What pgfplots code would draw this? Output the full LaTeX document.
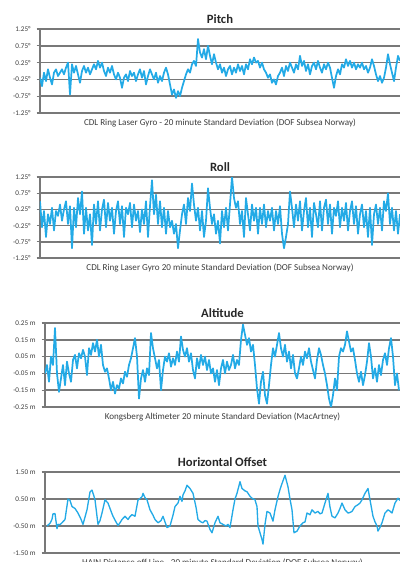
\documentclass[border=0pt]{standalone}
\usepackage{pgfplots}
\pgfplotsset{compat=1.18}
\usepackage{fontspec}
\setmainfont{Carlito}
\definecolor{linec}{RGB}{35,170,230}
\definecolor{gridc}{RGB}{120,120,120}
\definecolor{labc}{RGB}{60,60,60}
\definecolor{titc}{RGB}{40,40,40}
\pgfplotsset{
  panel/.style={
    scale only axis,
    axis x line*=bottom, axis y line*=left,
    x axis line style={draw=none},
    y axis line style={draw=gridc, line width=1.1pt},
    xtick=\empty,
    ymajorgrids, grid style={draw=gridc, line width=1.1pt},
    tick align=outside, major tick length=2.5pt,
    ytick style={draw=gridc, line width=0.8pt},
    yticklabel style={font=\fontsize{5.4}{6}\selectfont, text=labc, xshift=-1pt},
    title style={font=\bfseries\fontsize{9.5}{11}\selectfont, text=titc, at={(axis description cs:0.5,1)}, anchor=south, yshift=-5.5pt},
    xlabel style={font=\fontsize{6.8}{7}\selectfont, text=labc, at={(axis description cs:0.5,0)}, anchor=north, yshift=-0.5pt},
  },
  sig/.style={color=linec, line width=1.3pt, line join=round, mark=none},
}
\begin{document}
\begin{tikzpicture}
\useasboundingbox (0pt,0pt) rectangle (300pt,421.5pt);
% ---------- Pitch ----------
\begin{axis}[panel, at={(30pt,336.75pt)}, anchor=south west, width=270pt, height=63pt,
  xmin=0, xmax=360, ymin=-1.25, ymax=1.25,
  ytick={-1.25,-0.75,-0.25,0.25,0.75,1.25},
  yticklabels={-1.25°,-0.75°,-0.25°,0.25°,0.75°,1.25°},
  title={Pitch},
  xlabel={CDL Ring Laser Gyro - 20 minute Standard Deviation (DOF Subsea Norway)}]
\addplot[sig] coordinates {(0,-0.20)(2,-0.45)(4,-0.05)(6,-0.30)(8,0.05)(10,-0.20)(12,-0.40)(14,-0.05)(16,0.05)(18,-0.15)(20,-0.05)(22,0.05)(24,-0.10)(26,0.10)(28,0.25)(30,-0.70)(32,0.20)(34,-0.05)(36,0.15)(38,-0.10)(40,-0.35)(42,0.00)(44,0.15)(46,-0.05)(48,0.10)(50,-0.10)(52,0.05)(54,0.20)(56,0.05)(58,0.30)(60,0.10)(62,0.25)(64,0.00)(66,-0.15)(68,0.10)(70,-0.05)(72,0.15)(74,-0.10)(76,-0.25)(78,-0.05)(80,-0.20)(82,-0.50)(84,-0.20)(86,-0.10)(88,-0.30)(90,0.00)(92,-0.15)(94,-0.05)(96,-0.30)(98,-0.10)(100,0.05)(102,-0.20)(104,0.00)(106,-0.40)(108,-0.15)(110,0.05)(112,-0.10)(114,-0.25)(116,-0.05)(118,-0.35)
(120,-0.15)(122,-0.30)(124,-0.05)(126,0.10)(128,-0.10)(130,-0.40)(132,-0.70)(134,-0.55)(136,-0.80)(138,-0.60)(140,-0.75)(142,-0.50)(144,-0.30)(146,-0.10)(148,0.05)(150,-0.05)(152,0.20)(154,0.30)(156,0.15)(158,0.95)(160,0.55)(162,0.40)(164,0.65)(166,0.35)(168,0.75)(170,0.45)(172,0.20)(174,0.50)(176,0.25)(178,0.05)(180,0.20)(182,-0.05)(184,0.10)(186,-0.15)(188,0.05)(190,0.15)(192,-0.10)(194,0.10)(196,-0.05)(198,0.20)
(200,0.00)(202,0.15)(204,-0.10)(206,0.20)(208,0.05)(210,0.35)(212,0.20)(214,0.40)(216,0.25)(218,0.30)(220,0.10)(222,0.25)(224,0.05)(226,-0.05)(228,-0.20)(230,-0.10)(232,-0.35)(234,-0.25)(236,-0.40)(238,-0.15)(240,-0.05)(242,0.10)(244,-0.15)(246,0.15)(248,0.00)(250,0.25)(252,0.10)(254,-0.05)(256,0.20)(258,0.05)(260,0.45)(262,0.15)(264,0.30)(266,0.00)(268,0.20)(270,-0.10)(272,0.15)(274,0.25)(276,0.05)(278,0.30)(280,0.10)(282,-0.05)(284,0.20)(286,0.05)(288,0.25)(290,0.10)(292,-0.20)(294,-0.50)(296,-0.15)(298,0.05)(300,-0.10)(302,0.20)(304,0.10)(306,0.35)(308,0.15)(310,0.30)(312,0.10)(314,0.25)(316,0.05)(318,0.20)(320,0.10)(322,0.25)(324,0.05)(326,0.15)(328,-0.05)(330,0.10)(332,0.35)(334,0.15)(336,-0.10)(338,-0.30)(340,-0.15)(342,-0.35)(344,-0.20)(346,0.10)(348,0.50)(350,0.20)(352,-0.05)(354,-0.30)(356,0.10)(358,0.45)(360,0.30)};
\end{axis}
% ---------- Roll ----------
\begin{axis}[panel, at={(30pt,228pt)}, anchor=south west, width=270pt, height=60.75pt,
  xmin=0, xmax=360, ymin=-1.25, ymax=1.25,
  ytick={-1.25,-0.75,-0.25,0.25,0.75,1.25},
  yticklabels={-1.25°,-0.75°,-0.25°,0.25°,0.75°,1.25°},
  title={Roll},
  xlabel={CDL Ring Laser Gyro 20 minute Standard Deviation (DOF Subsea Norway)}]
\addplot[sig] coordinates {(0,0.50)(2,-0.30)(4,0.20)(6,-0.60)(8,0.10)(10,-0.20)(12,0.30)(14,-0.40)(16,0.20)(18,0.05)(20,0.40)(22,-0.10)(24,0.25)(26,0.50)(28,-0.20)(30,0.35)(32,-0.95)(34,0.30)(36,-0.30)(38,0.60)(40,0.10)(42,0.80)(44,-0.50)(46,0.30)(48,-0.40)(50,0.10)(52,-0.85)(54,0.40)(56,-0.20)(58,0.50)(60,-0.40)(62,0.25)(64,0.55)(66,-0.30)(68,0.45)(70,-0.10)(72,0.30)(74,-0.50)(76,0.20)(78,0.50)(80,-0.20)(82,0.35)(84,-0.60)(86,0.30)(88,0.10)(90,0.45)(92,-0.30)(94,0.40)(96,-0.10)(98,0.20)(100,-0.45)(102,0.25)(104,-0.20)(106,0.50)(108,-0.60)(110,0.35)(112,1.15)(114,0.10)(116,0.70)(118,-0.20)(120,0.50)(122,-0.30)(124,0.30)(126,-0.50)(128,0.20)(130,-0.30)(132,-0.10)(134,-0.50)(136,-0.20)(138,-0.95)(140,-0.40)(142,0.10)(144,0.40)(146,-0.20)(148,0.60)(150,0.20)(152,1.05)(154,0.40)(156,-0.10)(158,0.30)(160,-0.40)(162,0.20)(164,-0.60)(166,-0.10)(168,0.90)(170,0.30)(172,-0.20)(174,0.10)(176,-0.50)(178,-0.10)(180,-0.80)(182,0.20)(184,-0.30)(186,0.30)(188,-0.40)(190,0.40)(192,1.25)(194,0.60)(196,0.30)(198,0.50)(200,-0.20)(202,0.20)(204,-0.60)(206,0.60)(208,0.10)(210,-0.40)(212,0.40)(214,-0.10)(216,0.30)(218,-0.50)(220,0.30)(222,-0.20)(224,0.40)(226,-0.30)(228,0.20)(230,-0.10)(232,0.30)(234,-0.40)(236,0.20)(238,-0.20)(240,0.35)(242,-0.50)(244,-0.95)(246,-0.60)(248,-0.20)(250,0.80)(252,0.30)(254,-0.30)(256,0.40)(258,-0.10)(260,0.50)(262,-0.40)(264,0.20)(266,0.60)(268,-0.30)(270,0.30)(272,-0.60)(274,0.45)(276,0.10)(278,-0.30)(280,0.50)(282,-0.40)(284,0.30)(286,0.55)(288,-0.20)(290,0.40)(292,-0.50)(294,0.30)(296,0.05)(298,0.50)(300,-0.30)(302,0.30)(304,-0.10)(306,0.45)(308,-0.40)(310,0.20)(312,0.50)(314,-0.20)(316,0.35)(318,-0.50)(320,0.10)(322,0.40)(324,-0.30)(326,0.20)(328,-0.60)(330,0.30)(332,-0.85)(334,0.10)(336,0.40)(338,-0.20)(340,0.30)(342,-0.40)(344,0.50)(346,0.20)(348,0.75)(350,-0.20)(352,0.30)(354,-0.40)(356,0.20)(358,-0.50)(360,0.10)};
\end{axis}
% ---------- Altitude ----------
\begin{axis}[panel, at={(33.75pt,116.25pt)}, anchor=south west, width=266.25pt, height=63pt,
  xmin=0, xmax=355, ymin=-0.25, ymax=0.25,
  ytick={-0.25,-0.15,-0.05,0.05,0.15,0.25},
  yticklabels={-0.25 m,-0.15 m,-0.05 m,0.05 m,0.15 m,0.25 m},
  title={Altitude},
  xlabel={Kongsberg Altimeter 20 minute Standard Deviation (MacArtney)}]
\addplot[sig] coordinates {(0,-0.05)(2,0.00)(4,-0.10)(6,0.05)(8,0.00)(10,0.22)(12,-0.05)(14,-0.16)(16,-0.08)(18,0.00)(20,-0.12)(22,0.02)(24,-0.05)(26,-0.10)(28,0.03)(30,0.06)(32,-0.02)(34,0.07)(36,0.04)(38,0.09)(40,0.05)(42,-0.06)(44,0.10)(46,0.06)(48,0.13)(50,0.08)(52,0.15)(54,0.05)(56,0.12)(58,0.00)(60,-0.04)(62,-0.02)(64,-0.08)(66,-0.15)(68,-0.10)(70,-0.17)(72,-0.12)(74,-0.14)(76,-0.08)(78,-0.11)(80,-0.04)(82,-0.07)(84,0.00)(86,0.04)(88,0.10)(90,0.16)(92,0.05)(94,-0.20)(96,-0.08)(98,-0.03)(100,-0.10)(102,-0.02)(104,-0.06)(106,0.19)(108,0.10)(110,0.04)(112,-0.02)(114,0.03)(116,-0.15)(118,-0.03)(120,0.05)(122,0.02)(124,0.07)(126,-0.01)(128,0.04)(130,0.00)(132,0.08)(134,0.02)(136,0.17)(138,0.09)(140,0.05)(142,0.10)(144,0.02)(146,0.07)(148,-0.03)(150,-0.08)(152,0.04)(154,-0.02)(156,0.06)(158,0.00)(160,0.05)(162,-0.03)(164,0.03)(166,-0.05)(168,-0.02)(170,-0.10)(172,-0.03)(174,-0.12)(176,-0.02)(178,0.03)(180,-0.05)(182,0.02)(184,-0.03)(186,0.00)(188,0.06)(190,-0.02)(192,0.03)(194,0.00)(196,0.15)(198,0.24)(200,0.18)(202,0.12)(204,0.16)(206,0.08)(208,0.12)(210,0.00)(212,-0.14)(214,-0.23)(216,-0.10)(218,-0.04)(220,-0.18)(222,-0.23)(224,-0.12)(226,0.00)(228,0.10)(230,0.05)(232,0.12)(234,0.19)(236,0.10)(238,0.05)(240,0.12)(242,0.02)(244,0.08)(246,-0.02)(248,0.06)(250,-0.05)(252,-0.08)(254,-0.02)(256,0.05)(258,0.00)(260,0.08)(262,0.04)(264,0.10)(266,0.02)(268,-0.03)(270,-0.08)(272,0.03)(274,0.10)(276,0.06)(278,0.00)(280,-0.05)(282,-0.12)(284,-0.20)(286,-0.25)(288,-0.18)(290,-0.08)(292,-0.15)(294,0.05)(296,0.10)(298,0.08)(300,0.12)(302,0.20)(304,0.14)(306,0.08)(308,0.10)(310,0.03)(312,-0.05)(314,-0.10)(316,-0.04)(318,-0.12)(320,-0.06)(322,0.02)(324,0.13)(326,0.05)(328,-0.08)(330,-0.02)(332,-0.10)(334,0.00)(336,-0.06)(338,0.03)(340,0.07)(342,0.00)(344,0.10)(346,0.16)(348,0.05)(350,-0.12)(352,-0.05)(354,-0.15)};
\end{axis}
% ---------- Horizontal Offset ----------
\begin{axis}[panel, at={(33.75pt,6.75pt)}, anchor=south west, width=266.25pt, height=60.75pt,
  xmin=45, xmax=400, ymin=-1.5, ymax=1.5,
  ytick={-1.5,-0.5,0.5,1.5},
  yticklabels={-1.50 m,-0.50 m,0.50 m,1.50 m},
  title={Horizontal Offset},
  xlabel={HAIN Distance off Line - 20 minute Standard Deviation (DOF Subsea Norway)}]
\addplot[sig, line width=1pt] coordinates {(47,-0.50)(50,-0.40)(52,-0.25)(53,-0.05)(55,-0.04)(57,-0.60)(58,-0.44)(60,-0.45)(62,-0.38)(65,-0.26)(68,0.50)(70,0.45)(72,0.22)(75,0.15)(78,-0.02)(81,-0.25)(83,-0.44)(87,0.10)(90,0.76)(92,0.83)(94,0.60)(95,0.47)(98,-0.44)(100,-0.30)(102,-0.02)(105,0.47)(108,0.35)(111,0.05)(113,-0.14)(116,-0.35)(118,-0.48)(120,-0.38)(122,-0.26)(125,-0.14)(128,-0.26)(130,-0.15)(132,-0.08)(135,-0.14)(138,0.46)(142,0.58)(143,0.71)(145,0.55)(147,0.47)(150,0.10)(153,-0.10)(155,-0.26)(158,-0.38)(161,-0.30)(163,-0.14)(165,-0.35)(167,-0.56)(170,-0.50)(173,-0.10)(175,0.22)(178,0.35)(180,0.60)(182,0.41)(183,0.65)(185,0.80)(187,1.01)(190,0.89)(193,0.71)(196,0.20)(198,-0.26)(201,-0.35)(203,-0.38)(205,-0.30)(207,-0.32)(210,-0.63)(212,-0.75)(215,-0.38)(218,-0.14)(220,-0.38)(223,-0.44)(226,-0.50)(228,-0.44)(230,-0.56)(233,0.10)(235,0.50)(237,0.71)(240,1.14)(242,0.89)(245,0.80)(247,0.77)(250,0.60)(252,0.53)(255,0.47)(257,0.22)(258,-0.50)(260,-0.75)(262,-1.00)(263,-1.17)(265,-0.44)(267,0.04)(270,-0.02)(273,-0.32)(275,0.10)(278,0.59)(280,0.85)(282,1.07)(285,1.38)(288,0.95)(290,0.50)(292,0.10)(294,-0.75)(297,-0.69)(300,-0.50)(303,-0.38)(305,-0.35)(307,-0.02)(310,-0.08)(312,0.10)(315,-0.02)(318,0.04)(320,-0.05)(322,-0.02)(325,0.35)(328,0.71)(330,0.20)(332,-0.14)(335,-0.20)(338,-0.02)(340,0.15)(342,0.35)(345,0.10)(348,-0.02)(350,0.00)(352,0.04)(355,0.22)(358,0.29)(360,0.35)(362,0.47)(365,0.71)(368,0.89)(370,0.47)(373,-0.14)(375,-0.35)(377,-0.50)(378,-0.69)(380,-0.55)(382,-0.38)(385,-0.02)(388,0.10)(390,0.05)(392,-0.02)(395,0.35)(398,0.53)(400,0.45)};
\end{axis}
\end{tikzpicture}
\end{document}
